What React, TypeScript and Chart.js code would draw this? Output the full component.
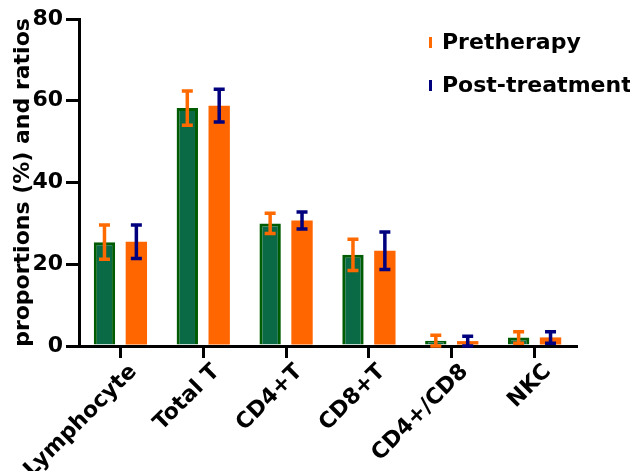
import React, { useEffect, useRef } from "react";
import { Chart, registerables } from "chart.js";

Chart.register(...registerables);

const categories = ["Lymphocyte", "Total T", "CD4+T", "CD8+T", "CD4+/CD8", "NKC"];
const seriesNames = ["Pretherapy", "Post-treatment"];
const preValues = [25.4, 58.2, 30.0, 22.3, 1.3, 2.1];
const preSD = [4.2, 4.2, 2.5, 3.8, 1.3, 1.4];
const postValues = [25.5, 58.8, 30.7, 23.3, 1.2, 2.1];
const postSD = [4.1, 4.0, 2.1, 4.6, 1.2, 1.4];
const yTicks = [0, 20, 40, 60, 80];

const FONT = '"DejaVu Sans", "Liberation Sans", Arial, sans-serif';
const errorColors = ["#ff6a00", "#00007f"];
const errors = [preSD, postSD];

const errorBarPlugin = {
  id: "errorBars",
  afterDatasetsDraw(chart: any) {
    const { ctx } = chart;
    const y = chart.scales.y;
    ctx.save();
    chart.data.datasets.forEach((ds: any, i: number) => {
      const meta = chart.getDatasetMeta(i);
      meta.data.forEach((bar: any, j: number) => {
        const v = ds.data[j];
        const e = errors[i][j];
        const yt = y.getPixelForValue(v + e);
        const yb = y.getPixelForValue(Math.max(0, v - e));
        const x = bar.x;
        ctx.strokeStyle = errorColors[i];
        ctx.lineWidth = 3.5;
        ctx.beginPath();
        ctx.moveTo(x, yt);
        ctx.lineTo(x, yb);
        ctx.moveTo(x - 5.5, yt);
        ctx.lineTo(x + 5.5, yt);
        ctx.moveTo(x - 5.5, yb);
        ctx.lineTo(x + 5.5, yb);
        ctx.stroke();
      });
    });
    ctx.restore();
  },
};

const legendPlugin = {
  id: "customLegend",
  afterDraw(chart: any) {
    const { ctx } = chart;
    ctx.save();
    ctx.font = `bold 22px ${FONT}`;
    ctx.textBaseline = "middle";
    ctx.textAlign = "left";
    chart.data.datasets.forEach((ds: any, i: number) => {
      const yy = 43 + i * 43;
      ctx.fillStyle = errorColors[i];
      ctx.fillRect(429, yy - 6, 3, 11);
      ctx.fillStyle = "#000";
      ctx.fillText(ds.label, 442, yy);
    });
    ctx.restore();
  },
};

export default function App() {
  const ref = useRef<HTMLCanvasElement | null>(null);
  useEffect(() => {
    if (!ref.current) return;
    const chart = new Chart(ref.current, {
      type: "bar",
      data: {
        labels: categories,
        datasets: [
          {
            label: seriesNames[0],
            data: preValues,
            backgroundColor: "#0a6a45",
            borderColor: "#005c00",
            borderWidth: 3,
            borderSkipped: "bottom",
            categoryPercentage: 0.77,
            barPercentage: 0.67,
          },
          {
            label: seriesNames[1],
            data: postValues,
            backgroundColor: "#ff6600",
            borderWidth: 0,
            categoryPercentage: 0.77,
            barPercentage: 0.67,
          },
        ],
      },
      options: {
        responsive: false,
        animation: false,
        layout: { padding: { top: 19, right: 54, left: 0, bottom: 0 } },
        plugins: { legend: { display: false }, tooltip: { enabled: false } },
        scales: {
          x: {
            offset: true,
            grid: {
              offset: false,
              drawOnChartArea: false,
              drawTicks: true,
              tickLength: 12,
              color: "#000",
              lineWidth: 3,
            },
            border: { display: true, color: "#000", width: 3 },
            ticks: {
              autoSkip: false,
              minRotation: 45,
              maxRotation: 45,
              color: "#000",
              padding: 1,
              labelOffset: 13,
              font: { family: FONT, weight: "bold", size: 22 },
            },
            afterFit(scale: any) {
              scale.height = 125;
            },
          },
          y: {
            min: 0,
            max: 80,
            afterBuildTicks(scale: any) {
              scale.ticks = yTicks.map((v) => ({ value: v }));
            },
            grid: {
              drawOnChartArea: false,
              drawTicks: true,
              tickLength: 13,
              color: "#000",
              lineWidth: 3,
            },
            border: { display: true, color: "#000", width: 3 },
            ticks: {
              color: "#000",
              padding: 3,
              font: { family: FONT, weight: "bold", size: 22 },
            },
            title: {
              display: true,
              text: "proportions (%) and ratios",
              color: "#000",
              padding: { top: 10, bottom: 0 },
              font: { family: FONT, weight: "bold", size: 22 },
            },
            afterFit(scale: any) {
              scale.width = 79;
            },
          },
        },
      },
      plugins: [errorBarPlugin, legendPlugin],
    });
    return () => chart.destroy();
  }, []);
  return (
    <div style={{ position: "absolute", left: 0, top: 0, width: 630, height: 471, background: "#fff" }}>
      <canvas ref={ref} width={630} height={471} style={{ display: "block" }} />
    </div>
  );
}
